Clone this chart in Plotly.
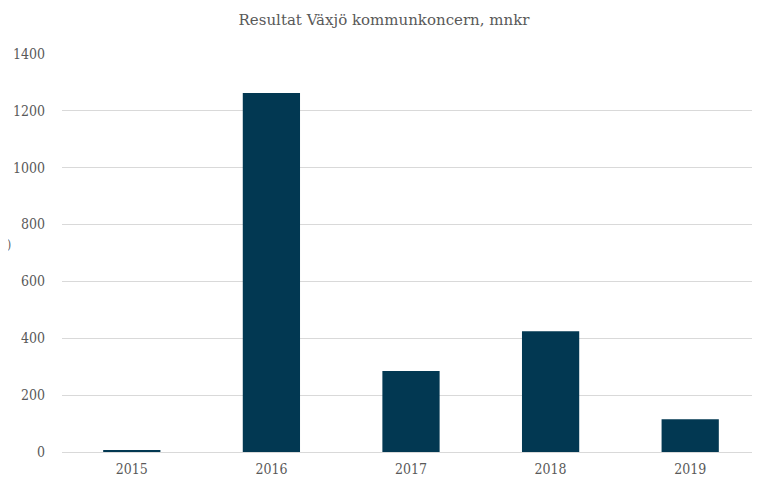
import plotly.graph_objects as go

years = ["2015", "2016", "2017", "2018", "2019"]
values = [6, 1263, 285, 425, 115]
y_ticks = [0, 200, 400, 600, 800, 1000, 1200, 1400]

# page body has an 8px margin, so the figure is sized to fit the window
W, H = 752, 469

fig = go.Figure(go.Bar(
    x=years, y=values,
    marker=dict(color="#023852", line=dict(width=0)),
    width=0.41,
))

fig.update_layout(
    width=W, height=H,
    paper_bgcolor="white", plot_bgcolor="white",
    margin=dict(l=54, r=0, t=46, b=25, autoexpand=False),
    title=dict(text="Resultat Växjö kommunkoncern, mnkr", x=0.5, xanchor="center",
               y=1 - 12/H, yanchor="middle",
               font=dict(family="DejaVu Serif, serif", size=15, color="#595959")),
    font=dict(family="DejaVu Serif Condensed, serif", color="#595959", size=14),
    showlegend=False,
)
fig.update_xaxes(showgrid=False, showline=True, linecolor="#d9d9d9", linewidth=1,
                 ticks="", tickfont=dict(size=14, family="DejaVu Serif Condensed, serif", color="#595959"),
                 ticklabelstandoff=4)
fig.update_yaxes(range=[0, 1400], tickvals=y_ticks, showgrid=True, gridcolor="#d9d9d9",
                 gridwidth=1, zeroline=False, showline=False, ticks="",
                 tickfont=dict(size=14, family="DejaVu Serif Condensed, serif", color="#595959"),
                 ticklabelstandoff=16)
fig.add_annotation(text=")", x=0, xref="paper", xanchor="left", xshift=-57,
                   y=(444 - 237) / 398, yref="paper",
                   yanchor="middle", showarrow=False, font=dict(size=12, color="#595959"))

fig.write_html("out.html")
